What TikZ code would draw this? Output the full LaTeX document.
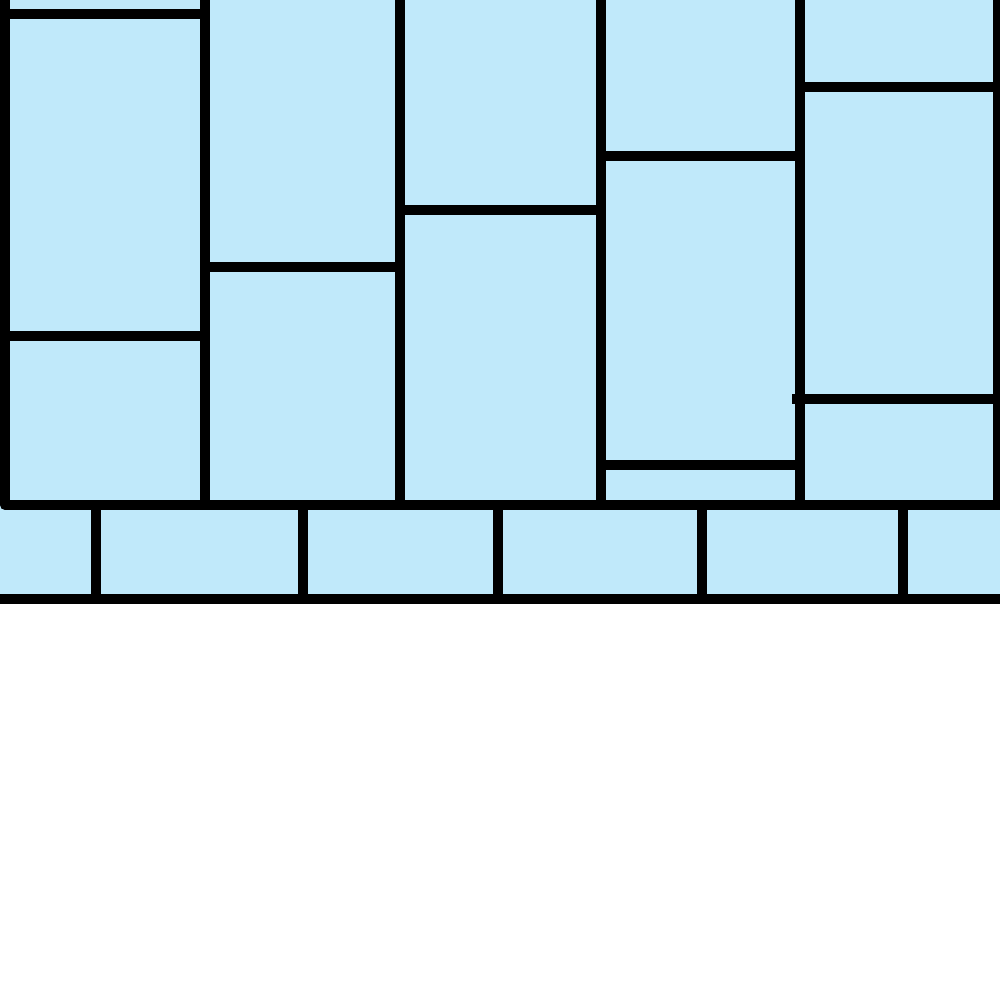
\documentclass[tikz,border=0pt]{standalone}
\definecolor{tile}{RGB}{192,233,250}
\begin{document}
\begin{tikzpicture}[x=0.01cm,y=-0.01cm,
  joint/.style={line width=0.1cm,draw=black,line cap=rect},
  outer/.style={line width=0.1cm,draw=black,line join=round}]
\useasboundingbox (0,0) rectangle (1000,1000);
\fill[white] (0,0) rectangle (1000,1000);
\fill[tile] (0,0) rectangle (1000,599);
% outer frame of the upper course
\draw[outer] (5,0) -- (5,505) -- (1000,505);
\draw[joint] (998,0) -- (998,505);
\draw[joint] (0,599) -- (1000,599);
% vertical joints of upper course
\foreach \x in {205,400,601,800} \draw[joint] (\x,0) -- (\x,505);
% horizontal joints within columns
\draw[joint] (5,14) -- (205,14);
\draw[joint] (5,336) -- (205,336);
\draw[joint] (205,267) -- (400,267);
\draw[joint] (400,210) -- (601,210);
\draw[joint] (601,156) -- (800,156);
\draw[joint] (601,465) -- (800,465);
\draw[joint] (800,87) -- (998,87);
\draw[joint] (797,399) -- (998,399);
% vertical joints of lower course
\foreach \x in {96,303,498,702,903} \draw[joint] (\x,505) -- (\x,599);
\end{tikzpicture}
\end{document}
